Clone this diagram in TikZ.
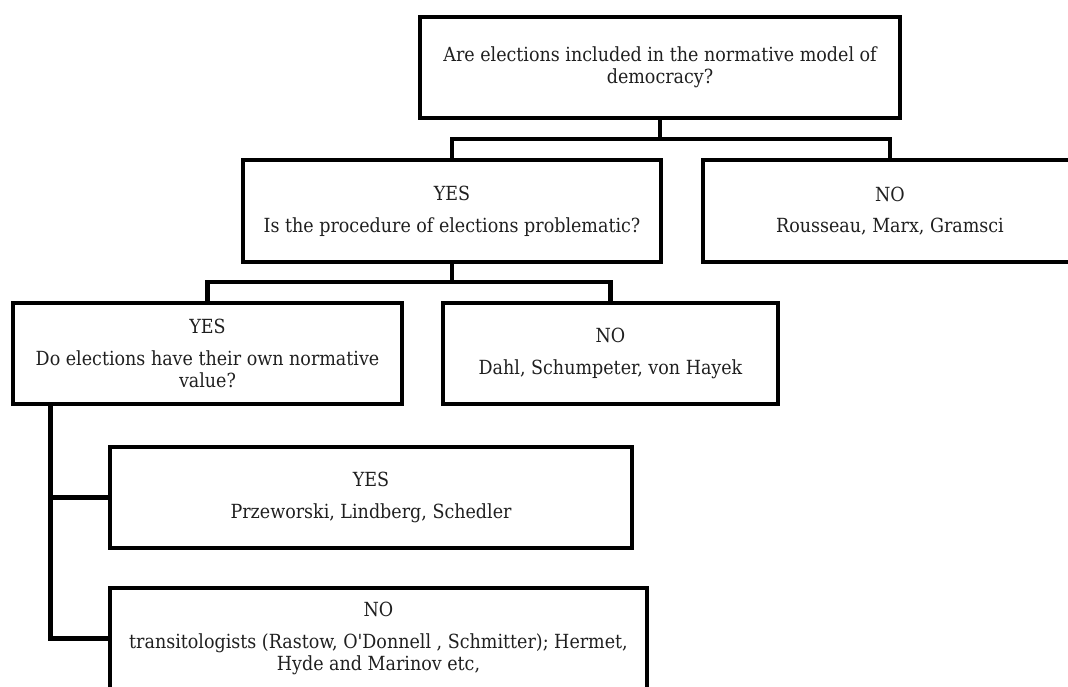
\documentclass[tikz,border=0pt]{standalone}
\usepackage{fontspec}
\setmainfont{DejaVu Serif Condensed}
\usetikzlibrary{calc}

\tikzset{
  qbox/.style={draw=black, line width=3.4pt, align=center, inner sep=0pt,
    font=\fontsize{14.6}{16.8}\selectfont, text=black!88},
  link/.style={draw=black, line width=3.4pt}
}
\newcommand{\lbl}[1]{#1\\[7pt]}

\begin{document}
\begin{tikzpicture}[x=0.75pt, y=-0.75pt]
  \useasboundingbox (0,0) rectangle (1068,686);
  \clip (0,0) rectangle (1068,686);

  % question boxes and answer boxes
  \node[qbox, minimum width=360pt, minimum height=75.75pt] (top) at (660,67.5)
    {Are elections included in the normative model of\\democracy?};
  \node[qbox, minimum width=313.5pt, minimum height=76.5pt] (yesA) at (452,211)
    {\lbl{YES}Is the procedure of elections problematic?};
  \node[qbox, minimum width=280.5pt, minimum height=76.5pt] (noA) at (890,211)
    {\lbl{NO}Rousseau, Marx, Gramsci};
  \node[qbox, minimum width=291.75pt, minimum height=75.75pt] (yesB) at (207.5,353.5)
    {\lbl{YES}Do elections have their own normative\\value?};
  \node[qbox, minimum width=251.25pt, minimum height=75.75pt] (noB) at (610.5,353.5)
    {\lbl{NO}Dahl, Schumpeter, von Hayek};
  \node[qbox, minimum width=391.5pt, minimum height=75.75pt] (yesC) at (371,497.5)
    {\lbl{YES}Przeworski, Lindberg, Schedler};
  \node[qbox, minimum width=402.75pt, minimum height=75.75pt] (noC) at (378.5,638.5)
    {\lbl{NO}transitologists (Rastow, O\textquotesingle Donnell , Schmitter); Hermet,\\Hyde and Marinov etc,};

  % tree connectors
  \coordinate (j1) at (660,139);
  \coordinate (j2) at (452,282);
  \coordinate (j3) at ($(yesB.south west)+(40,0)$);
  \draw[link] (top.south) -- (j1);
  \draw[link] (yesA.north) |- (j1) -| (noA.north);
  \draw[link] (yesA.south) -- (j2);
  \draw[link] (yesB.north) |- (j2) -| (noB.north);
  \draw[link] (j3) |- (yesC.west);
  \draw[link] (j3) |- (noC.west);
\end{tikzpicture}
\end{document}
